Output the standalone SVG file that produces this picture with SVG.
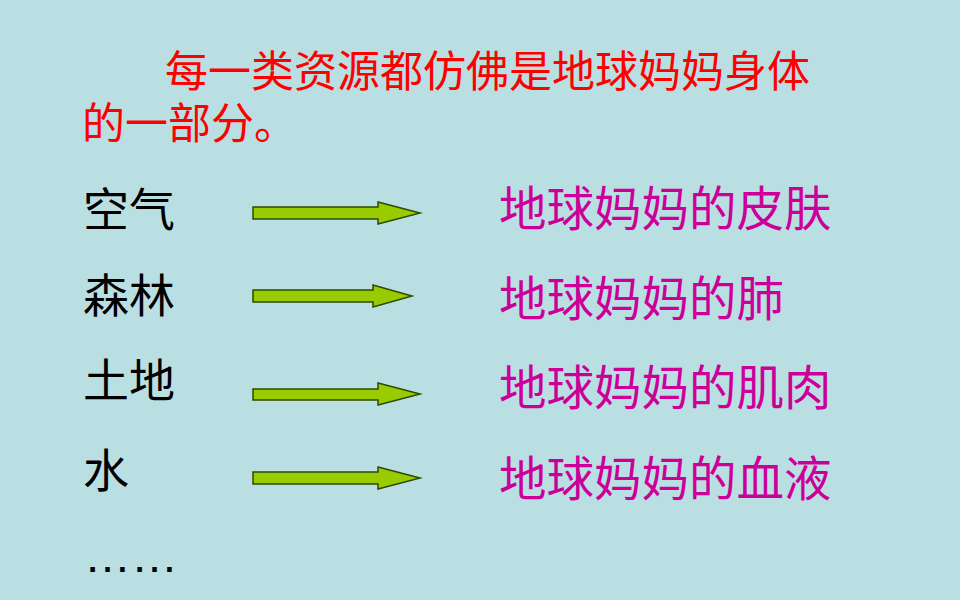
<svg xmlns="http://www.w3.org/2000/svg" width="960" height="600" viewBox="0 0 960 600">
  <style>
    .title { font-family: "Noto Sans CJK SC", sans-serif; font-size: 43px; fill: #FF0000; }
    .res { font-family: "Noto Sans CJK SC", sans-serif; font-size: 46px; fill: #000000; }
    .part { font-family: "Noto Sans CJK SC", sans-serif; font-size: 47.5px; fill: #CC0099; }
    .dots { font-family: "Liberation Sans", sans-serif; font-size: 47px; fill: #000000; }
    .arrow { fill: #99CC00; stroke: #2E4A00; stroke-width: 1.5; stroke-linejoin: miter; }
  </style>
  <rect width="960" height="600" fill="#BADFE3"/>

  <g id="title">
    <text class="title" x="165" y="87">每一类资源都仿佛是地球妈妈身体</text>
    <text class="title" x="82" y="139">的一部分。</text>
  </g>

  <g id="res-air"><text class="res" x="83" y="226">空气</text></g>
  <g id="res-forest"><text class="res" x="83" y="312">森林</text></g>
  <g id="res-land"><text class="res" x="83" y="397">土地</text></g>
  <g id="res-water"><text class="res" x="83" y="487">水</text></g>
  <g id="res-more"><text class="dots" x="84" y="572">……</text></g>

  <g id="part-skin"><text class="part" x="499" y="226">地球妈妈的皮肤</text></g>
  <g id="part-lung"><text class="part" x="499" y="316">地球妈妈的肺</text></g>
  <g id="part-muscle"><text class="part" x="499" y="405">地球妈妈的肌肉</text></g>
  <g id="part-blood"><text class="part" x="499" y="496">地球妈妈的血液</text></g>

  <g id="connectors">
    <polygon class="arrow" points="253,207 378,207 378,202 420,213 378,224 378,219 253,219"/>
    <polygon class="arrow" points="253,290 373,290 373,285 412,296 373,307 373,302 253,302"/>
    <polygon class="arrow" points="253,389 378,389 378,383 420,394 378,405 378,400 253,400"/>
    <polygon class="arrow" points="253,472 378,472 378,467 420,478 378,489 378,484 253,484"/>
  </g>
</svg>
